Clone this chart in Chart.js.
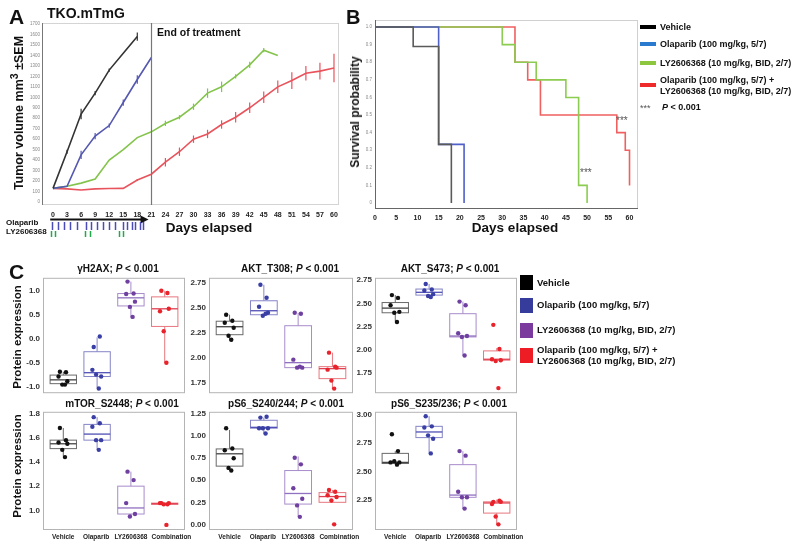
<!DOCTYPE html>
<html>
<head>
<meta charset="utf-8">
<script src="https://cdn.jsdelivr.net/npm/chart.js@4.4.1/dist/chart.umd.min.js"></script>
<style>
  body { margin: 0; width: 800px; height: 548px; position: relative; background: #fff; overflow: hidden;
         font-family: "Liberation Sans", Arial, sans-serif; }
  canvas { position: absolute; }
  .t { position: absolute; white-space: nowrap; font-weight: bold; color: #111; line-height: 1; transform: translateY(-50%); }
  .c { transform: translate(-50%, -50%); }
  .rot { transform: translate(-50%, -50%) rotate(-90deg); }
  .bar { position: absolute; }
  sup { font-size: 0.85em; line-height: 0; }
</style>
</head>
<body>
<canvas id="chartA"></canvas>
<canvas id="chartB"></canvas>
<canvas id="c1"></canvas><canvas id="c2"></canvas><canvas id="c3"></canvas>
<canvas id="c4"></canvas><canvas id="c5"></canvas><canvas id="c6"></canvas>

<!-- panel A text -->
<div class="t" style="left:9px;top:16px;font-size:21px">A</div>
<div class="t" style="left:47px;top:13px;font-size:14px">TKO.mTmG</div>
<div class="t" style="left:157px;top:32px;font-size:10.5px">End of treatment</div>
<div class="t rot" style="left:19px;top:113px;font-size:12.5px">Tumor volume mm<sup>3</sup> ±SEM</div>
<div class="t c" style="left:209px;top:228px;font-size:13.5px">Days elapsed</div>
<div class="t" style="left:6px;top:223px;font-size:8px">Olaparib</div>
<div class="t" style="left:6px;top:232px;font-size:8px">LY2606368</div>

<!-- panel B text -->
<div class="t" style="left:346px;top:17px;font-size:20px">B</div>
<div class="t rot" style="left:355px;top:112px;font-size:12px">Survival probability</div>
<div class="t c" style="left:515px;top:228px;font-size:13.5px">Days elapsed</div>
<div class="t" style="left:616px;top:121px;font-size:10px;font-weight:normal;color:#555">***</div>
<div class="t" style="left:580px;top:173px;font-size:10px;font-weight:normal;color:#555">***</div>

<div class="bar" style="left:640px;top:25px;width:16px;height:4px;background:#000"></div>
<div class="t" style="left:660px;top:27px;font-size:9px">Vehicle</div>
<div class="bar" style="left:640px;top:42px;width:16px;height:4px;background:#2a7ad0"></div>
<div class="t" style="left:660px;top:44px;font-size:9px">Olaparib (100 mg/kg, 5/7)</div>
<div class="bar" style="left:640px;top:61px;width:16px;height:4px;background:#8dc63f"></div>
<div class="t" style="left:660px;top:63px;font-size:9px">LY2606368 (10 mg/kg, BID, 2/7)</div>
<div class="bar" style="left:640px;top:83px;width:16px;height:4px;background:#ee2a2a"></div>
<div class="t" style="left:660px;top:80px;font-size:9px">Olaparib (100 mg/kg, 5/7) +</div>
<div class="t" style="left:660px;top:91px;font-size:9px">LY2606368 (10 mg/kg, BID, 2/7)</div>
<div class="t" style="left:640px;top:108px;font-size:9px;font-weight:normal;color:#555">***</div>
<div class="t" style="left:662px;top:107px;font-size:9px"><i>P</i> &lt; 0.001</div>

<!-- panel C text -->
<div class="t" style="left:9px;top:271px;font-size:21px">C</div>
<div class="t rot" style="left:18px;top:337px;font-size:11.5px">Protein expression</div>
<div class="t rot" style="left:18px;top:466px;font-size:11.5px">Protein expression</div>
<div class="t c" style="left:118px;top:269px;font-size:10px">γH2AX; <i>P</i> &lt; 0.001</div>
<div class="t c" style="left:290px;top:269px;font-size:10px">AKT_T308; <i>P</i> &lt; 0.001</div>
<div class="t c" style="left:450px;top:269px;font-size:10px">AKT_S473; <i>P</i> &lt; 0.001</div>
<div class="t c" style="left:122px;top:404px;font-size:10px">mTOR_S2448; <i>P</i> &lt; 0.001</div>
<div class="t c" style="left:286px;top:404px;font-size:10px">pS6_S240/244; <i>P</i> &lt; 0.001</div>
<div class="t c" style="left:449px;top:404px;font-size:10px">pS6_S235/236; <i>P</i> &lt; 0.001</div>

<div class="bar" style="left:520px;top:275px;width:13px;height:15px;background:#000"></div>
<div class="t" style="left:537px;top:283px;font-size:9.5px">Vehicle</div>
<div class="bar" style="left:520px;top:298px;width:13px;height:15px;background:#363c9c"></div>
<div class="t" style="left:537px;top:305px;font-size:9.5px">Olaparib (100 mg/kg, 5/7)</div>
<div class="bar" style="left:520px;top:323px;width:13px;height:15px;background:#7b3b9e"></div>
<div class="t" style="left:537px;top:330px;font-size:9.5px">LY2606368 (10 mg/kg, BID, 2/7)</div>
<div class="bar" style="left:520px;top:348px;width:13px;height:15px;background:#ee1c25"></div>
<div class="t" style="left:537px;top:350px;font-size:9.5px">Olaparib (100 mg/kg, 5/7) +</div>
<div class="t" style="left:537px;top:361px;font-size:9.5px">LY2606368 (10 mg/kg, BID, 2/7)</div>

<script>
// ---------- panel A: tumour volume ----------
var days = [0, 3, 6, 9, 12, 15, 18, 21, 24, 27, 30, 33, 36, 39, 42, 45, 48, 51, 54, 57, 60];
var volTicks = [0, 100, 200, 300, 400, 500, 600, 700, 800, 900, 1000, 1100, 1200, 1300, 1400, 1500, 1600, 1700];
var vehicleVol = [130, 480, 840, 1040, 1260, 1420, 1580];
var vehicleSem = [0, 20, 50, 20, 15, 0, 40];
var olaparibVol = [130, 150, 450, 630, 730, 950, 1170, 1380];
var olaparibSem = [0, 0, 40, 30, 20, 30, 40, 0];
var lyVol = [130, 150, 180, 220, 400, 500, 615, 670, 750, 810, 910, 1040, 1100, 1200, 1310, 1450, 1400];
var lySem = [0, 0, 0, 0, 0, 0, 0, 0, 25, 20, 30, 45, 50, 20, 30, 20, 0];
var comboVol = [130, 125, 115, 125, 128, 130, 210, 265, 380, 480, 600, 650, 740, 810, 900, 1000, 1100, 1160, 1230, 1250, 1280];
var comboSem = [0, 0, 0, 0, 0, 0, 10, 0, 40, 40, 35, 40, 40, 50, 50, 55, 60, 80, 70, 80, 135];
var endOfTreatment = 21;
var arrowSpan = [-0.6, 20.4];
var olaparibDoses = [-0.3, 1.0, 2.4, 3.7, 5.1, 7, 8.2, 9.5, 10.7, 12, 13.2, 15, 15.9, 16.8, 17.6, 18.5, 19.3];
var lyDoses = [-0.5, 0.4, 6.9, 7.9, 14, 15];

// ---------- panel B: survival ----------
var survTicksX = [0, 5, 10, 15, 20, 25, 30, 35, 40, 45, 50, 55, 60];
var survTicksY = [0, 0.1, 0.2, 0.3, 0.4, 0.5, 0.6, 0.7, 0.8, 0.9, 1];
var kmVehicleT = [0, 9, 15, 18];
var kmVehicleS = [1, 0.889, 0.333, 0];
var kmOlaparibT = [0, 15, 21];
var kmOlaparibS = [1, 0.333, 0];
var kmLyT = [0, 30, 33, 38, 45, 48, 50];
var kmLyS = [1, 0.9, 0.8, 0.7, 0.6, 0.1, 0];
var kmComboT = [0, 33, 36, 39, 57, 59, 60];
var kmComboS = [1, 0.8, 0.7, 0.5, 0.4, 0.3, 0.1];

// ---------- panel C: protein expression ----------
var groups = ['Vehicle', 'Olaparib', 'LY2606368', 'Combination'];
// box stats per group: [low whisker, q1, median, q3, high whisker]
var h2axPts = [[-0.69, -0.70, -0.79, -0.89, -0.96, -0.96], [-0.17, 0.05, -0.65, -0.79, -0.75, -1.04],
               [1.20, 0.95, 0.94, 0.78, 0.67, 0.46], [1.01, 0.96, 0.58, 0.63, 0.16, -0.50]];
var h2axBox = [[-0.96, -0.94, -0.86, -0.76, -0.69], [-1.03, -0.79, -0.71, -0.27, 0.03],
               [0.45, 0.69, 0.86, 0.95, 1.20], [-0.51, 0.26, 0.63, 0.88, 1.01]];
var h2axTicks = [-1, -0.5, 0, 0.5, 1];

var t308Pts = [[2.43, 2.37, 2.35, 2.30, 2.22, 2.18], [2.73, 2.60, 2.51, 2.45, 2.42, 2.44],
               [2.45, 2.44, 1.98, 1.90, 1.90, 1.91], [2.05, 1.91, 1.88, 1.90, 1.77, 1.69]];
var t308Box = [[2.17, 2.23, 2.31, 2.365, 2.43], [2.42, 2.43, 2.47, 2.57, 2.73],
               [1.90, 1.90, 1.95, 2.32, 2.45], [1.69, 1.79, 1.89, 1.91, 2.05]];
var aktTicks = [1.75, 2, 2.25, 2.5, 2.75];

var s473Pts = [[2.59, 2.56, 2.48, 2.41, 2.40, 2.30], [2.71, 2.65, 2.64, 2.60, 2.58, 2.57],
               [2.52, 2.48, 2.18, 2.15, 2.14, 1.94], [2.27, 2.01, 1.90, 1.89, 1.88, 1.59]];
var s473Box = [[2.31, 2.40, 2.45, 2.51, 2.59], [2.57, 2.59, 2.62, 2.655, 2.71],
               [1.94, 2.14, 2.15, 2.39, 2.52], [1.89, 1.89, 1.90, 1.99, 2.02]];

var mtorPts = [[1.68, 1.58, 1.56, 1.55, 1.50, 1.44], [1.77, 1.72, 1.69, 1.58, 1.58, 1.50],
               [1.32, 1.25, 1.06, 0.97, 0.95], [1.06, 1.05, 1.06, 1.06, 1.05, 0.88]];
var mtorBox = [[1.45, 1.51, 1.55, 1.58, 1.68], [1.50, 1.58, 1.63, 1.71, 1.77],
               [0.94, 0.97, 1.02, 1.20, 1.32], [1.05, 1.05, 1.055, 1.06, 1.06]];
var mtorTicks = [1.0, 1.2, 1.4, 1.6, 1.8];

var s240Pts = [[1.09, 0.86, 0.84, 0.75, 0.64, 0.61], [1.21, 1.22, 1.09, 1.09, 1.09, 1.03],
               [0.755, 0.68, 0.41, 0.29, 0.215, 0.085], [0.39, 0.37, 0.33, 0.31, 0.27, 0.0]];
var s240Box = [[0.625, 0.66, 0.80, 0.855, 1.07], [1.03, 1.09, 1.10, 1.18, 1.21],
               [0.085, 0.23, 0.35, 0.61, 0.77], [0.25, 0.25, 0.315, 0.36, 0.39]];
var s240Ticks = [0, 0.25, 0.5, 0.75, 1.0, 1.25];

var s235Pts = [[2.83, 2.68, 2.58, 2.58, 2.59, 2.56], [2.99, 2.90, 2.89, 2.79, 2.82, 2.66],
               [2.68, 2.64, 2.32, 2.27, 2.27, 2.17], [2.23, 2.24, 2.21, 2.23, 2.10, 2.03]];
var s235Box = [[2.57, 2.57, 2.58, 2.66, 2.68], [2.66, 2.80, 2.85, 2.90, 2.99],
               [2.17, 2.27, 2.29, 2.56, 2.68], [2.03, 2.13, 2.22, 2.23, 2.25]];
var s235Ticks = [2.25, 2.5, 2.75, 3.0];

// layout tweaks (not data): horizontal jitter of dots, where the group labels sit
var jitter = [-0.1, 0.08, -0.14, 0.12, -0.03, 0.05, 0.15];
var xLabelPos = [1, 1.97, 3.0, 4.2];

var pointColors = ['#111111', '#3a3fa5', '#7040a0', '#e8232b'];
var boxColors = ['#6a6a6a', '#8585c8', '#a88ccb', '#e8767f'];
var medianColors = ['#444444', '#5050b5', '#9070c0', '#e04050'];

Chart.defaults.font.family = '"Liberation Sans", Arial, sans-serif';
Chart.defaults.animation = false;
Chart.defaults.plugins.legend.display = false;
Chart.defaults.plugins.tooltip.enabled = false;

var PAD = 6;
// size and position a canvas so that its chart area lands on area = [left, top, right, bottom]
function place(id, area, yW, xH, padR) {
  var c = document.getElementById(id);
  var w = area[2] - area[0] + yW + PAD + padR;
  var h = area[3] - area[1] + xH + 2 * PAD;
  c.width = w; c.height = h;
  c.style.left = (area[0] - yW - PAD) + 'px';
  c.style.top = (area[1] - PAD) + 'px';
  c.style.width = w + 'px'; c.style.height = h + 'px';
  return c;
}

function axis(min, max, ticks, size, opt) {
  return {
    type: 'linear', min: min, max: max,
    afterBuildTicks: function(s) { s.ticks = ticks.map(function(v) { return { value: v }; }); },
    afterFit: opt.horizontal
      ? function(s) { s.height = size; }
      : function(s) { s.width = size; },
    grid: { display: false, drawTicks: false },
    border: { display: false },
    ticks: opt.ticks
  };
}

function makeFrame(o) {
  return {
    id: 'frame',
    beforeDatasetsDraw: function(chart) {
      var a = chart.chartArea, ctx = chart.ctx;
      ctx.save();
      ctx.lineWidth = 1;
      ctx.strokeStyle = o.box;
      ctx.strokeRect(a.left + 0.5, a.top + 0.5, a.width - 1, a.height - 1);
      if (o.left) {
        ctx.strokeStyle = o.left;
        ctx.beginPath(); ctx.moveTo(a.left + 0.5, a.top); ctx.lineTo(a.left + 0.5, a.bottom); ctx.stroke();
      }
      if (o.bottom) {
        ctx.strokeStyle = o.bottom;
        ctx.beginPath(); ctx.moveTo(a.left, a.bottom - 0.5); ctx.lineTo(a.right, a.bottom - 0.5); ctx.stroke();
      }
      ctx.restore();
    }
  };
}

// ---------- A ----------
var errorBars = {
  id: 'errorBars',
  afterDatasetsDraw: function(chart) {
    var ctx = chart.ctx, y = chart.scales.y;
    chart.data.datasets.forEach(function(ds, i) {
      var meta = chart.getDatasetMeta(i);
      ctx.save();
      ctx.strokeStyle = ds.borderColor; ctx.lineWidth = 1.2;
      ds.data.forEach(function(p, j) {
        var s = ds.sem[j];
        if (!s) return;
        var px = meta.data[j].x;
        ctx.beginPath();
        ctx.moveTo(px, y.getPixelForValue(p.y - s));
        ctx.lineTo(px, y.getPixelForValue(p.y + s));
        ctx.stroke();
      });
      ctx.restore();
    });
  }
};

var treatment = {
  id: 'treatment',
  afterDraw: function(chart) {
    var ctx = chart.ctx, x = chart.scales.x, a = chart.chartArea;
    ctx.save();
    var ex = Math.round(x.getPixelForValue(endOfTreatment)) + 0.5;
    ctx.strokeStyle = '#777'; ctx.lineWidth = 1.2;
    ctx.beginPath(); ctx.moveTo(ex, a.top); ctx.lineTo(ex, a.bottom); ctx.stroke();

    var ay = a.bottom + 14.5;
    var x0 = x.getPixelForValue(arrowSpan[0]), x1 = x.getPixelForValue(arrowSpan[1]);
    ctx.strokeStyle = '#111'; ctx.fillStyle = '#111'; ctx.lineWidth = 2;
    ctx.beginPath(); ctx.moveTo(x0, ay); ctx.lineTo(x1 - 6, ay); ctx.stroke();
    ctx.beginPath(); ctx.moveTo(x1, ay); ctx.lineTo(x1 - 8, ay - 4); ctx.lineTo(x1 - 8, ay + 4); ctx.closePath(); ctx.fill();

    ctx.lineWidth = 1.5;
    ctx.strokeStyle = '#4a4ab8';
    olaparibDoses.forEach(function(d) {
      var px = Math.round(x.getPixelForValue(d)) + 0.5;
      ctx.beginPath(); ctx.moveTo(px, a.bottom + 17); ctx.lineTo(px, a.bottom + 25); ctx.stroke();
    });
    ctx.strokeStyle = '#22aa4a';
    lyDoses.forEach(function(d) {
      var px = Math.round(x.getPixelForValue(d)) + 0.5;
      ctx.beginPath(); ctx.moveTo(px, a.bottom + 26); ctx.lineTo(px, a.bottom + 32); ctx.stroke();
    });
    ctx.restore();
  }
};

function volSeries(vals, sem, color) {
  return {
    data: vals.map(function(v, i) { return { x: days[i], y: v }; }),
    sem: sem, borderColor: color, backgroundColor: color,
    borderWidth: 1.6, pointRadius: 0, tension: 0, fill: false
  };
}

var areaA = [42, 23, 339, 205];
new Chart(place('chartA', areaA, 12, 34, PAD), {
  type: 'line',
  data: { datasets: [
    volSeries(vehicleVol, vehicleSem, '#333333'),
    volSeries(olaparibVol, olaparibSem, '#5558b0'),
    volSeries(lyVol, lySem, '#84c44c'),
    volSeries(comboVol, comboSem, '#e8535c')
  ] },
  options: {
    responsive: false, devicePixelRatio: 1, layout: { padding: PAD },
    scales: {
      x: axis(-2.35, 61.07, days, 34, { horizontal: true, ticks: {
        font: { size: 7, weight: 'bold' }, color: '#222', padding: 6, maxRotation: 0, autoSkip: false } }),
      y: axis(-29, 1710, volTicks, 12, { ticks: {
        callback: function(v) { return String(v); },
        font: { size: 4.5 }, color: '#888', padding: 2 } })
    }
  },
  plugins: [makeFrame({ box: '#d4d4d4', left: '#777' }), errorBars, treatment]
});

// ---------- B ----------
function kmSeries(t, s, color) {
  return {
    data: t.map(function(d, i) { return { x: d, y: s[i] }; }),
    stepped: true, borderColor: color, borderWidth: 1.6, pointRadius: 0, fill: false
  };
}

var areaB = [375, 20, 638, 209];
new Chart(place('chartB', areaB, 10, 14, PAD), {
  type: 'line',
  data: { datasets: [
    kmSeries(kmVehicleT, kmVehicleS, '#5a5a5a'),
    kmSeries(kmOlaparibT, kmOlaparibS, '#4f60c8'),
    kmSeries(kmLyT, kmLyS, '#8ccc50'),
    kmSeries(kmComboT, kmComboS, '#f06060')
  ] },
  options: {
    responsive: false, devicePixelRatio: 1, layout: { padding: PAD },
    scales: {
      x: axis(0, 62, survTicksX, 14, { horizontal: true, ticks: {
        font: { size: 7, weight: 'bold' }, color: '#222', padding: 5, maxRotation: 0, autoSkip: false } }),
      y: axis(-0.034, 1.04, survTicksY, 10, { ticks: {
        font: { size: 4.5 }, color: '#888', padding: 3 } })
    }
  },
  plugins: [makeFrame({ box: '#d0d0d0', left: '#666', bottom: '#666' })]
});

// ---------- C ----------
function makeBoxes(stats) {
  return {
    id: 'boxes',
    beforeDatasetsDraw: function(chart) {
      var ctx = chart.ctx, x = chart.scales.x, y = chart.scales.y;
      stats.forEach(function(s, g) {
        var cx = x.getPixelForValue(g + 1);
        var hw = x.getPixelForValue(g + 1.39) - cx;
        var p = s.map(function(v) { return y.getPixelForValue(v); });
        ctx.save();
        ctx.lineWidth = 1;
        ctx.strokeStyle = boxColors[g];
        ctx.beginPath();
        ctx.moveTo(cx, p[0]); ctx.lineTo(cx, p[1]);
        ctx.moveTo(cx, p[3]); ctx.lineTo(cx, p[4]);
        ctx.stroke();
        ctx.strokeRect(cx - hw, p[3], 2 * hw, p[1] - p[3]);
        ctx.strokeStyle = medianColors[g]; ctx.lineWidth = 1.3;
        ctx.beginPath(); ctx.moveTo(cx - hw, p[2]); ctx.lineTo(cx + hw, p[2]); ctx.stroke();
        ctx.restore();
      });
    }
  };
}

function subplot(id, area, pts, stats, yRange, yTicks, dec, bottomRow) {
  var xH = bottomRow ? 13 : 0;
  var padR = bottomRow ? 18 : PAD;
  new Chart(place(id, area, 22, xH, padR), {
    type: 'scatter',
    data: { datasets: pts.map(function(vals, g) {
      return {
        data: vals.map(function(v, j) { return { x: g + 1 + jitter[j], y: v }; }),
        backgroundColor: pointColors[g], borderColor: pointColors[g],
        pointRadius: 2.2, borderWidth: 0
      };
    }) },
    options: {
      responsive: false, devicePixelRatio: 1,
      layout: { padding: { left: PAD, top: PAD, bottom: PAD, right: padR } },
      scales: {
        x: axis(0.4, 4.6, xLabelPos, xH, { horizontal: true, ticks: {
          display: bottomRow, callback: function(v, i) { return groups[i]; },
          font: { size: 6.5, weight: 'bold' }, color: '#222', padding: 3, maxRotation: 0, autoSkip: false } }),
        y: axis(yRange[0], yRange[1], yTicks, 22, { ticks: {
          callback: function(v) { return v.toFixed(dec); },
          font: { size: 8, weight: 'bold' }, color: '#333', padding: 3 } })
      }
    },
    plugins: [makeFrame({ box: '#b4b4b4' }), makeBoxes(stats)]
  });
}

subplot('c1', [43, 276, 185, 395], h2axPts, h2axBox, [-1.14, 1.28], h2axTicks, 1, false);
subplot('c2', [209, 276, 353, 395], t308Pts, t308Box, [1.644, 2.80], aktTicks, 2, false);
subplot('c3', [375, 276, 517, 395], s473Pts, s473Box, [1.535, 2.776], aktTicks, 2, false);
subplot('c4', [43, 410, 185, 530], mtorPts, mtorBox, [0.838, 1.814], mtorTicks, 1, true);
subplot('c5', [209, 410, 353, 530], s240Pts, s240Box, [-0.064, 1.276], s240Ticks, 2, true);
subplot('c6', [375, 410, 517, 530], s235Pts, s235Box, [1.98, 3.029], s235Ticks, 2, true);
</script>
</body>
</html>
